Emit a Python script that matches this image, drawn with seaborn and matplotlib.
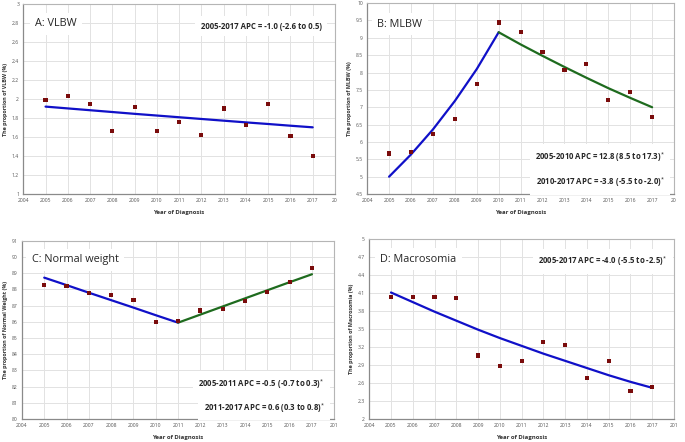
import numpy as np
import pandas as pd
import matplotlib
matplotlib.use("Agg")
import matplotlib.pyplot as plt
import seaborn as sns

sns.set_style("white")
plt.rcParams['font.family'] = ['Open Sans', 'DejaVu Sans']
plt.rcParams['mathtext.fontset'] = 'custom'
plt.rcParams['mathtext.rm'] = 'Open Sans'
plt.rcParams['mathtext.bf'] = 'Open Sans:bold'

years = [2005, 2006, 2007, 2008, 2009, 2010, 2011, 2012, 2013, 2014, 2015, 2016, 2017]

# observed values (%)
vlbw_obs = [1.99, 2.03, 1.95, 1.66, 1.92, 1.66, 1.76, 1.62, 1.90, 1.73, 1.95, 1.61, 1.40]
mlbw_obs = [5.67, 5.72, 6.22, 6.65, 7.66, 9.44, 9.17, 8.60, 8.07, 8.25, 7.20, 7.45, 6.71]
normal_obs = [88.28, 88.2, 87.76, 87.64, 87.33, 86.0, 86.05, 86.7, 86.77, 87.3, 87.85, 88.46, 89.35]
macro_obs = [4.03, 4.03, 4.03, 4.02, 3.06, 2.89, 2.97, 3.28, 3.23, 2.68, 2.97, 2.47, 2.53]

# joinpoint fitted values
vlbw_fit = [1.920, 1.901, 1.882, 1.863, 1.844, 1.826, 1.808, 1.790, 1.772, 1.754, 1.737, 1.719, 1.702]
mlbw_fit1_years = [2005, 2006, 2007, 2008, 2009, 2010]
mlbw_fit1 = [5.0, 5.64, 6.36, 7.18, 8.10, 9.16]
mlbw_fit2_years = [2010, 2011, 2012, 2013, 2014, 2015, 2016, 2017]
mlbw_fit2 = [9.16, 8.81, 8.48, 8.16, 7.85, 7.55, 7.27, 7.0]
normal_fit1_years = [2005, 2006, 2007, 2008, 2009, 2010, 2011]
normal_fit1 = [88.73, 88.27, 87.8, 87.34, 86.88, 86.41, 85.95]
normal_fit2_years = [2011, 2012, 2013, 2014, 2015, 2016, 2017]
normal_fit2 = [85.95, 86.45, 86.95, 87.45, 87.95, 88.45, 88.94]
macro_fit = [4.11, 3.95, 3.79, 3.64, 3.49, 3.35, 3.22, 3.09, 2.97, 2.85, 2.73, 2.62, 2.52]

x_ticks = list(range(2004, 2019))

BLUE = "#1010c8"
GREEN = "#1e6b1e"
RED = "#7a0c0c"

fig = plt.figure(figsize=(6.85, 4.42), dpi=100)
axA = fig.add_axes([0.034, 0.561, 0.455, 0.430])
axB = fig.add_axes([0.536, 0.561, 0.448, 0.432])
axC = fig.add_axes([0.032, 0.052, 0.456, 0.403])
axD = fig.add_axes([0.539, 0.052, 0.445, 0.407])


def style_axis(ax, yticks, ylabels, ylabel, last_label):
    ax.set_xlim(2004, 2018)
    ax.set_xticks(x_ticks)
    ax.set_xticklabels([str(y) for y in x_ticks[:-1]] + [last_label])
    ax.set_ylim(yticks[0], yticks[-1])
    ax.set_yticks(yticks)
    ax.set_yticklabels(ylabels)
    ax.grid(True, color="#e2e2e2", linewidth=0.7)
    ax.set_axisbelow(True)
    ax.tick_params(axis="both", labelsize=3.6, colors="#555555", length=1.5, pad=1.5, width=0.5)
    for s in ["top", "right"]:
        ax.spines[s].set_color("#b5b5b5")
        ax.spines[s].set_linewidth(0.8)
    for s in ["left", "bottom"]:
        ax.spines[s].set_color("#8a8a8a")
        ax.spines[s].set_linewidth(0.9)
    ax.set_xlabel("Year of Diagnosis", fontsize=4.3, fontweight="bold", color="#333333", labelpad=5)
    ax.set_ylabel(ylabel, fontsize=3.9, fontweight="bold", color="#333333", labelpad=3)


def points(ax, y):
    df = pd.DataFrame({"year": years, "value": y})
    sns.scatterplot(data=df, x="year", y="value", ax=ax, marker="s", s=9, color=RED,
                    edgecolor="none", zorder=5)


def fit(ax, x, y, color):
    df = pd.DataFrame({"year": x, "value": y})
    sns.lineplot(data=df, x="year", y="value", ax=ax, color=color, linewidth=1.6, zorder=4)


box = dict(facecolor="white", edgecolor="none", pad=4)
TSIZE = 7.8
ASIZE = 5.6

# A
fit(axA, years, vlbw_fit, BLUE)
points(axA, vlbw_obs)
ticks = [1, 1.2, 1.4, 1.6, 1.8, 2, 2.2, 2.4, 2.6, 2.8, 3]
style_axis(axA, ticks, ["1", "1.2", "1.4", "1.6", "1.8", "2", "2.2", "2.4", "2.6", "2.8", "3"],
           "The proportion of VLBW (%)", "20")
axA.text(0.038, 0.895, "A: VLBW", transform=axA.transAxes, fontsize=TSIZE, va="center", ha="left", bbox=box)
axA.text(0.958, 0.884, "2005-2017 APC = -1.0 (-2.6 to 0.5)", transform=axA.transAxes,
         fontsize=ASIZE, fontweight="bold", va="center", ha="right", bbox=box)

# B
fit(axB, mlbw_fit1_years, mlbw_fit1, BLUE)
fit(axB, mlbw_fit2_years, mlbw_fit2, GREEN)
points(axB, mlbw_obs)
ticks = [4.5, 5, 5.5, 6, 6.5, 7, 7.5, 8, 8.5, 9, 9.5, 10]
style_axis(axB, ticks, ["4.5", "5", "5.5", "6", "6.5", "7", "7.5", "8", "8.5", "9", "9.5", "10"],
           "The proportion of MLBW (%)", "20")
axB.text(0.033, 0.89, "B: MLBW", transform=axB.transAxes, fontsize=TSIZE, va="center", ha="left", bbox=box)
axB.text(0.97, 0.194, "2005-2010 APC = 12.8 (8.5 to 17.3)$^{*}$", transform=axB.transAxes,
         fontsize=ASIZE, fontweight="bold", va="center", ha="right", bbox=box)
axB.text(0.97, 0.063, "2010-2017 APC = -3.8 (-5.5 to -2.0)$^{*}$", transform=axB.transAxes,
         fontsize=ASIZE, fontweight="bold", va="center", ha="right", bbox=box)

# C
fit(axC, normal_fit1_years, normal_fit1, BLUE)
fit(axC, normal_fit2_years, normal_fit2, GREEN)
points(axC, normal_obs)
ticks = list(range(80, 92))
style_axis(axC, ticks, [str(t) for t in ticks], "The proportion of Normal Weight (%)", "201")
axC.text(0.032, 0.893, "C: Normal weight", transform=axC.transAxes, fontsize=TSIZE, va="center", ha="left", bbox=box)
axC.text(0.97, 0.197, "2005-2011 APC = -0.5 (-0.7 to 0.3)$^{*}$", transform=axC.transAxes,
         fontsize=ASIZE, fontweight="bold", va="center", ha="right", bbox=box)
axC.text(0.97, 0.062, "2011-2017 APC = 0.6 (0.3 to 0.8)$^{*}$", transform=axC.transAxes,
         fontsize=ASIZE, fontweight="bold", va="center", ha="right", bbox=box)

# D
fit(axD, years, macro_fit, BLUE)
points(axD, macro_obs)
ticks = [2, 2.3, 2.6, 2.9, 3.2, 3.5, 3.8, 4.1, 4.4, 4.7, 5]
style_axis(axD, ticks, ["2", "2.3", "2.6", "2.9", "3.2", "3.5", "3.8", "4.1", "4.4", "4.7", "5"],
           "The proportion of Macrosomia (%)", "201")
axD.text(0.036, 0.889, "D: Macrosomia", transform=axD.transAxes, fontsize=TSIZE, va="center", ha="left", bbox=box)
axD.text(0.977, 0.878, "2005-2017 APC = -4.0 (-5.5 to -2.5)$^{*}$", transform=axD.transAxes,
         fontsize=ASIZE, fontweight="bold", va="center", ha="right", bbox=box)

fig.savefig("out.png", dpi=100)
